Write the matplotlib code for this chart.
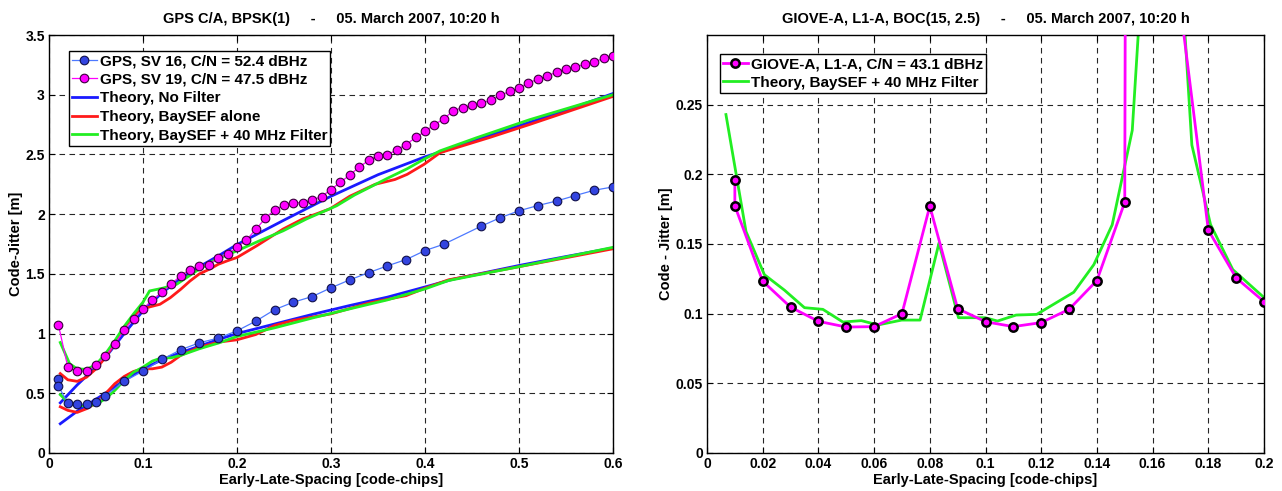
import numpy as np
import matplotlib
matplotlib.use("Agg")
import matplotlib.pyplot as plt
from matplotlib.ticker import FixedLocator, FuncFormatter

plt.rcParams['font.family'] = ['Liberation Sans', 'DejaVu Sans']
plt.rcParams['font.weight'] = 'bold'

# ---------------- left panel: GPS C/A ----------------
sv16_x = [0.01, 0.01, 0.02, 0.03, 0.04, 0.05, 0.06, 0.08, 0.10, 0.12, 0.14, 0.16, 0.18, 0.20,
          0.22, 0.24, 0.26, 0.28, 0.30, 0.32, 0.34, 0.36, 0.38, 0.40, 0.42, 0.46, 0.48, 0.50,
          0.52, 0.54, 0.56, 0.58, 0.60]
sv16_y = [0.62, 0.56, 0.418, 0.407, 0.407, 0.43, 0.48, 0.60, 0.686, 0.783, 0.864, 0.923, 0.962, 1.023,
          1.104, 1.20, 1.263, 1.31, 1.383, 1.45, 1.51, 1.567, 1.62, 1.695, 1.748, 1.90, 1.97, 2.028,
          2.072, 2.11, 2.156, 2.20, 2.228]

sv19_x = [0.01, 0.02, 0.03, 0.04, 0.05, 0.06, 0.07, 0.08, 0.09, 0.10, 0.11, 0.12, 0.13, 0.14,
          0.15, 0.16, 0.17, 0.18, 0.19, 0.20, 0.21, 0.22, 0.23, 0.24, 0.25, 0.26, 0.27, 0.28,
          0.29, 0.30, 0.31, 0.32, 0.33, 0.34, 0.35, 0.36, 0.37, 0.38, 0.39, 0.40, 0.41, 0.42,
          0.43, 0.44, 0.45, 0.46, 0.47, 0.48, 0.49, 0.50, 0.51, 0.52, 0.53, 0.54, 0.55, 0.56,
          0.57, 0.58, 0.59, 0.60]
sv19_y = [1.074, 0.719, 0.683, 0.686, 0.733, 0.811, 0.912, 1.029, 1.126, 1.207, 1.282, 1.344, 1.413, 1.486,
          1.533, 1.564, 1.578, 1.631, 1.667, 1.722, 1.783, 1.872, 1.964, 2.036, 2.075, 2.097, 2.094, 2.119,
          2.147, 2.206, 2.267, 2.328, 2.394, 2.45, 2.489, 2.497, 2.539, 2.583, 2.642, 2.692, 2.75, 2.797,
          2.867, 2.892, 2.911, 2.931, 2.953, 2.994, 3.028, 3.053, 3.10, 3.128, 3.156, 3.189, 3.219, 3.228,
          3.258, 3.272, 3.306, 3.328]

# theory curves, C/N = 47.5 dBHz (upper set)
nofilt_hi_x = [0.012, 0.03, 0.05, 0.06, 0.08, 0.10, 0.12, 0.14, 0.16, 0.18, 0.20, 0.25, 0.30, 0.35,
               0.40, 0.42, 0.45, 0.50, 0.55, 0.60]
nofilt_hi_y = [0.42, 0.57, 0.72, 0.80, 1.00, 1.19, 1.34, 1.46, 1.56, 1.65, 1.745, 1.95, 2.15, 2.33,
               2.48, 2.53, 2.61, 2.74, 2.87, 3.01]
baysef_hi_x = [0.012, 0.02, 0.03, 0.04, 0.05, 0.06, 0.07, 0.08, 0.09, 0.10, 0.107, 0.118, 0.129, 0.14,
               0.15, 0.16, 0.171, 0.18, 0.19, 0.20, 0.221, 0.249, 0.27, 0.299, 0.32, 0.347, 0.368, 0.381,
               0.399, 0.416, 0.468, 0.511, 0.60]
baysef_hi_y = [0.665, 0.613, 0.60, 0.635, 0.705, 0.80, 0.92, 1.05, 1.15, 1.21, 1.223, 1.245, 1.30, 1.37,
               1.44, 1.50, 1.54, 1.58, 1.61, 1.637, 1.735, 1.875, 1.96, 2.045, 2.15, 2.25, 2.29, 2.333,
               2.417, 2.514, 2.64, 2.75, 2.986]
filt_hi_x = [0.012, 0.022, 0.03, 0.04, 0.05, 0.06, 0.07, 0.08, 0.09, 0.10, 0.107, 0.121, 0.136, 0.157,
             0.178, 0.20, 0.224, 0.249, 0.274, 0.306, 0.325, 0.36, 0.381, 0.399, 0.416, 0.455, 0.511, 0.60]
filt_hi_y = [0.925, 0.747, 0.705, 0.70, 0.74, 0.83, 0.94, 1.06, 1.165, 1.263, 1.357, 1.38, 1.414, 1.525,
             1.623, 1.693, 1.777, 1.86, 1.96, 2.07, 2.16, 2.30, 2.38, 2.46, 2.53, 2.64, 2.79, 3.0]

# theory curves, C/N = 52.4 dBHz (lower set)
nofilt_lo_x = [0.012, 0.03, 0.05, 0.061, 0.079, 0.10, 0.12, 0.14, 0.16, 0.18, 0.20, 0.24, 0.28, 0.32,
               0.36, 0.40, 0.43, 0.50, 0.55, 0.60]
nofilt_lo_y = [0.245, 0.35, 0.45, 0.505, 0.603, 0.705, 0.78, 0.84, 0.895, 0.95, 1.0, 1.08, 1.16, 1.235,
               1.305, 1.39, 1.455, 1.57, 1.645, 1.717]
baysef_lo_x = [0.012, 0.02, 0.03, 0.04, 0.05, 0.06, 0.07, 0.08, 0.09, 0.10, 0.11, 0.12, 0.13, 0.14,
               0.16, 0.18, 0.20, 0.22, 0.24, 0.26, 0.30, 0.34, 0.38, 0.40, 0.425, 0.50, 0.60]
baysef_lo_y = [0.387, 0.357, 0.34, 0.371, 0.418, 0.496, 0.58, 0.641, 0.683, 0.705, 0.705, 0.719, 0.76, 0.817,
               0.886, 0.928, 0.948, 0.992, 1.068, 1.11, 1.165, 1.255, 1.318, 1.38, 1.45, 1.56, 1.71]
filt_lo_x = [0.012, 0.02, 0.03, 0.04, 0.05, 0.06, 0.07, 0.08, 0.09, 0.10, 0.11, 0.12, 0.13, 0.14,
             0.16, 0.18, 0.20, 0.24, 0.28, 0.32, 0.36, 0.40, 0.425, 0.50, 0.60]
filt_lo_y = [0.488, 0.427, 0.40, 0.393, 0.407, 0.454, 0.524, 0.608, 0.677, 0.719, 0.77, 0.797, 0.797, 0.817,
             0.873, 0.92, 0.976, 1.048, 1.13, 1.207, 1.282, 1.374, 1.444, 1.56, 1.722]

# ---------------- right panel: GIOVE-A ----------------
giove_x = [0.01, 0.01, 0.02, 0.03, 0.04, 0.05, 0.06, 0.07, 0.08, 0.09, 0.10, 0.11, 0.12, 0.13,
           0.14, 0.15, 0.16, 0.17, 0.18, 0.19, 0.20]
giove_y = [0.196, 0.1774, 0.1233, 0.1047, 0.0945, 0.0904, 0.0907, 0.100, 0.1772, 0.1036, 0.0942, 0.0907,
           0.0936, 0.1031, 0.1238, 0.1800, 8.0, 0.32, 0.160, 0.1257, 0.1086]

giove_th_x = [0.0068, 0.014, 0.0206, 0.0278, 0.035, 0.0416, 0.0488, 0.0554, 0.0614, 0.0699, 0.0765,
              0.0833, 0.0903, 0.0999, 0.1043, 0.111, 0.1184, 0.1317, 0.1389, 0.1455, 0.1527, 0.1595,
              0.1633, 0.167, 0.1741, 0.1808, 0.1888, 0.2001]
giove_th_y = [0.2429, 0.159, 0.128, 0.1169, 0.1043, 0.1031, 0.094, 0.095, 0.0919, 0.0954, 0.0954,
              0.1507, 0.0971, 0.0971, 0.0947, 0.099, 0.0995, 0.1154, 0.1352, 0.1638, 0.2316, 0.45,
              1.0, 0.45, 0.221, 0.164, 0.1316, 0.1114]

c_blue = '#1a1aff'
c_red = '#ff1a1a'
c_green = '#22ee22'
c_mag = '#ff00ff'

fig = plt.figure(figsize=(12.82, 4.91), dpi=100)
ax1 = fig.add_axes([49 / 1282, 1 - 453 / 491, 564 / 1282, 418 / 491])
ax2 = fig.add_axes([707 / 1282, 1 - 453 / 491, 557 / 1282, 418 / 491])

fmt = FuncFormatter(lambda v, p: '%g' % round(v, 4))
leg_kw = dict(loc='upper left', borderaxespad=0, fontsize=11, fancybox=False, framealpha=1,
              edgecolor='k', handlelength=1.6, handletextpad=0.2, labelspacing=0.3,
              borderpad=0.22)

# left
l1, = ax1.plot(sv16_x, sv16_y, '-o', color='#4d79ff', lw=0.9, ms=6.2, mfc='#3344e0',
               mec='#10104a', mew=0.8, zorder=5)
l2, = ax1.plot(sv19_x, sv19_y, '-o', color=c_mag, lw=0.9, ms=6.2, mfc=c_mag,
               mec='#3a003a', mew=0.8, zorder=5)
l3, = ax1.plot(nofilt_hi_x, nofilt_hi_y, color=c_blue, lw=2)
ax1.plot(nofilt_lo_x, nofilt_lo_y, color=c_blue, lw=2)
l4, = ax1.plot(baysef_hi_x, baysef_hi_y, color=c_red, lw=2)
ax1.plot(baysef_lo_x, baysef_lo_y, color=c_red, lw=2)
l5, = ax1.plot(filt_hi_x, filt_hi_y, color=c_green, lw=2)
ax1.plot(filt_lo_x, filt_lo_y, color=c_green, lw=2)

ax1.set_xlim(0, 0.6)
ax1.set_ylim(0, 3.5)
ax1.xaxis.set_major_locator(FixedLocator(np.arange(0, 0.61, 0.1)))
ax1.yaxis.set_major_locator(FixedLocator(np.arange(0, 3.51, 0.5)))
ax1.set_title('GPS C/A, BPSK(1)     -     05. March 2007, 10:20 h', fontsize=10.5,
              fontweight='bold', pad=9)
ax1.set_xlabel('Early-Late-Spacing [code-chips]', fontsize=10.5, fontweight='bold', labelpad=1)
ax1.set_ylabel('Code-Jitter [m]', fontsize=10.5, fontweight='bold', labelpad=2)
ax1.legend([l1, l2, l3, l4, l5],
           ['GPS, SV 16, C/N = 52.4 dBHz', 'GPS, SV 19, C/N = 47.5 dBHz', 'Theory, No Filter',
            'Theory, BaySEF alone', 'Theory, BaySEF + 40 MHz Filter'],
           bbox_to_anchor=(0.035, 0.962), **leg_kw)

# right
g1, = ax2.plot(giove_x, giove_y, '-o', color=c_mag, lw=2, ms=6, mfc=c_mag, mec='k',
               mew=1.8, zorder=5)
g2, = ax2.plot(giove_th_x, giove_th_y, color=c_green, lw=2)
ax2.set_xlim(0, 0.2)
ax2.set_ylim(0, 0.3)
ax2.xaxis.set_major_locator(FixedLocator(np.arange(0, 0.201, 0.02)))
ax2.yaxis.set_major_locator(FixedLocator(np.arange(0, 0.251, 0.05)))
ax2.set_title('GIOVE-A, L1-A, BOC(15, 2.5)     -     05. March 2007, 10:20 h', fontsize=10.5,
              fontweight='bold', pad=9)
ax2.set_xlabel('Early-Late-Spacing [code-chips]', fontsize=10.5, fontweight='bold', labelpad=1)
ax2.set_ylabel('Code - Jitter [m]', fontsize=10.5, fontweight='bold', labelpad=2)
ax2.legend([g1, g2], ['GIOVE-A, L1-A, C/N = 43.1 dBHz', 'Theory, BaySEF + 40 MHz Filter'],
           bbox_to_anchor=(0.023, 0.955), **leg_kw)

for ax in (ax1, ax2):
    ax.xaxis.set_major_formatter(fmt)
    ax.yaxis.set_major_formatter(fmt)
    ax.grid(True, color='k', ls=(0, (5, 4)), lw=0.8, alpha=0.85)
    ax.set_axisbelow(True)
    ax.tick_params(direction='in', top=True, right=True, length=4, width=0.8,
                   labelsize=10, pad=3)
    for lab in ax.get_xticklabels() + ax.get_yticklabels():
        lab.set_fontweight('bold')
    for s in ax.spines.values():
        s.set_linewidth(1)
        s.set_color('k')

fig.savefig('out.png', dpi=100)
